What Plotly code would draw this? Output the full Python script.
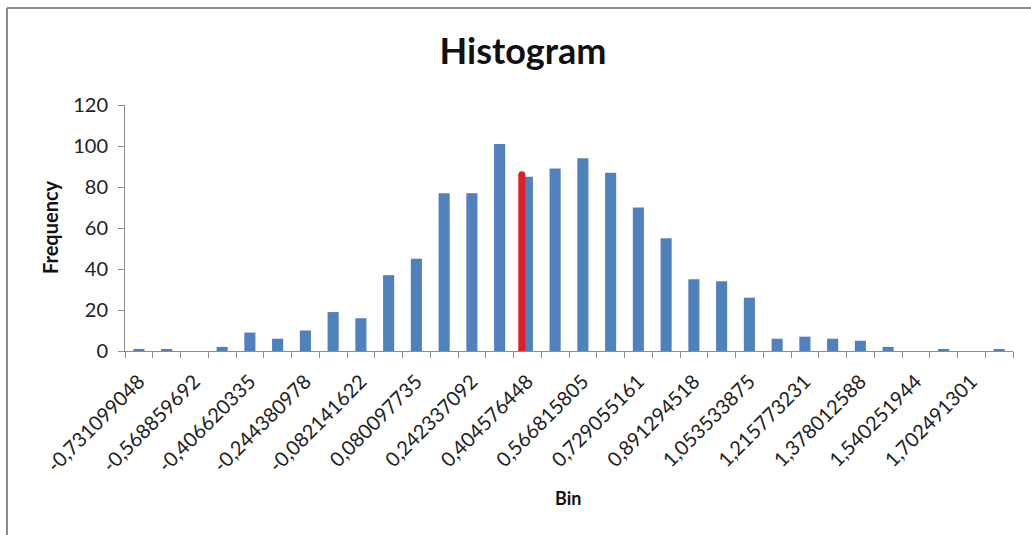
import plotly.graph_objects as go

bins = [
    "-0,731099048", "-0,64997937", "-0,568859692", "-0,487740013",
    "-0,406620335", "-0,325500657", "-0,244380978", "-0,1632613",
    "-0,082141622", "-0,001021943", "0,080097735", "0,161217414",
    "0,242337092", "0,32345677", "0,404576448", "0,485696127",
    "0,566815805", "0,647935483", "0,729055161", "0,81017484",
    "0,891294518", "0,972414196", "1,053533875", "1,134653553",
    "1,215773231", "1,296892909", "1,378012588", "1,459132266",
    "1,540251944", "1,621371623", "1,702491301", "1,783610979",
]
frequency = [1, 1, 0, 2, 9, 6, 10, 19, 16, 37, 45, 77, 77, 101, 85, 89,
             94, 87, 70, 55, 35, 34, 26, 6, 7, 6, 5, 2, 0, 1, 0, 1]
# labels shown on every other bin
shown_labels = bins[::2]

# red marker line (position in bin-index units, height in frequency)
marker_pos = 13.8
marker_height = 86

idx = list(range(len(bins)))
FONT = "Lato"

fig = go.Figure()
fig.add_trace(go.Bar(x=idx, y=frequency, marker_color="#4F81BD",
                     marker_line_width=0, width=0.4, showlegend=False,
                     hovertext=bins))
fig.add_trace(go.Scatter(x=[marker_pos, marker_pos], y=[0, marker_height],
                         mode="lines+markers",
                         line=dict(color="#DD2027", width=7),
                         marker=dict(color="#DD2027", size=7, symbol="circle"),
                         showlegend=False))

fig.update_layout(
    width=1031, height=535,
    margin=dict(l=125, r=18, t=105, b=184),
    paper_bgcolor="white", plot_bgcolor="white",
    font=dict(family=FONT, color="#404040"),
    title=dict(text="<b>Histogram</b>", x=523/1031, xanchor="center",
               y=1 - 51/535, yanchor="middle",
               font=dict(family=FONT, size=36, color="#111111")),
    xaxis=dict(range=[-0.5, len(bins) - 0.5], showline=True,
               linecolor="#8C8C8C", linewidth=1, showgrid=False,
               zeroline=False, tickmode="array",
               tickvals=idx[::2], ticktext=shown_labels, ticks="",
               tickangle=-45, ticklabelstandoff=10,
               tickfont=dict(family=FONT, size=20, color="#222222"),
               minor=dict(ticks="outside", tickmode="linear", tick0=-0.5,
                          dtick=1, ticklen=6, tickcolor="#8C8C8C",
                          showgrid=False)),
    yaxis=dict(range=[0, 120], tickvals=[0, 20, 40, 60, 80, 100, 120],
               showline=True, linecolor="#8C8C8C", linewidth=1,
               ticks="outside", ticklen=6, tickcolor="#8C8C8C",
               showgrid=False, zeroline=False,
               tickfont=dict(family=FONT, size=20, color="#222222"),
               ticklabelstandoff=6),
    bargap=0.6,
)

fig.add_annotation(text="<b>Frequency</b>", xref="paper", yref="paper",
                   x=(50 - 125) / 888, y=(351 - 227) / 246,
                   xanchor="center", yanchor="middle",
                   textangle=-90, showarrow=False,
                   font=dict(family=FONT, size=20, color="#111111"))
fig.add_annotation(text="<b>Bin</b>", xref="paper", yref="paper",
                   x=(568 - 125) / 888, y=(351 - 498) / 246,
                   xanchor="center", yanchor="middle",
                   showarrow=False,
                   font=dict(family=FONT, size=18, color="#111111"))

# chart-area border (left and top edges)
fig.add_shape(type="line", xref="paper", yref="paper",
              x0=(7 - 125) / 888, x1=(7 - 125) / 888,
              y0=(351 - 8) / 246, y1=(351 - 540) / 246,
              line=dict(color="#8A8A8A", width=2))
fig.add_shape(type="line", xref="paper", yref="paper",
              x0=(7 - 125) / 888, x1=(1040 - 125) / 888,
              y0=(351 - 8) / 246, y1=(351 - 8) / 246,
              line=dict(color="#8A8A8A", width=2))

fig.write_html("out.html")
